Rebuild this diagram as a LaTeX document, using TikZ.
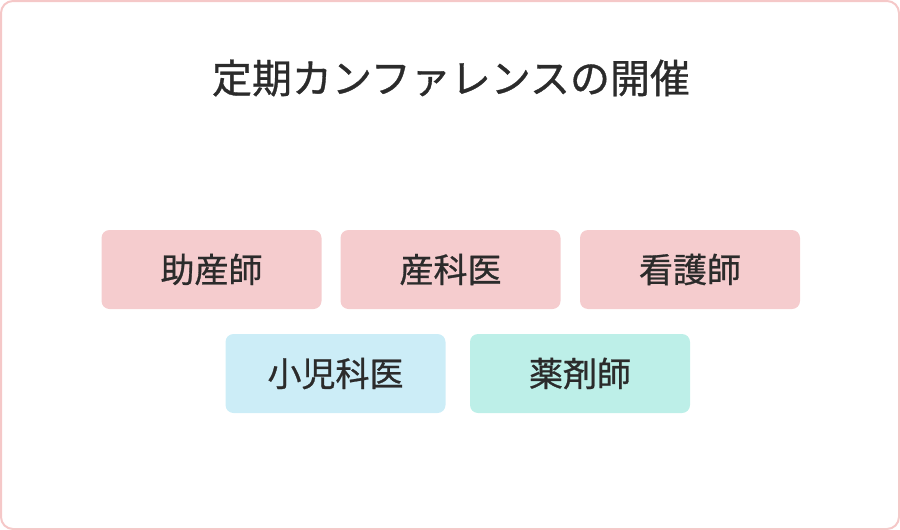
\documentclass[tikz,border=0pt]{standalone}
\usepackage{fontspec}
\newfontfamily\jpfont[FakeBold=0.8]{Noto Sans CJK JP}
\definecolor{cfpink}{RGB}{245,204,206}
\definecolor{cfblue}{RGB}{204,237,247}
\definecolor{cfgreen}{RGB}{189,239,232}
\definecolor{cfborder}{RGB}{245,200,200}
\definecolor{cftext}{RGB}{43,43,43}
\usetikzlibrary{positioning}

\begin{document}
\begin{tikzpicture}[
  x=0.5pt,y=-0.5pt,
  every node/.style={font=\jpfont\fontsize{17}{20}\selectfont,text=cftext},
  rolebox/.style={rounded corners=4pt,minimum width=110pt,minimum height=39.5pt,
                  inner sep=0pt,align=center},
]
  % Frame
  \useasboundingbox (0,0) rectangle (900,530);
  \draw[cfborder,line width=1pt,rounded corners=6pt] (1,1) rectangle (899,529);

  % Title
  \node[font=\jpfont\fontsize{20}{24}\selectfont] (title) at (451,78)
    {定期カンファレンスの開催};

  % First row
  \node[rolebox,fill=cfpink] (josanshi) at (211.5,269.5) {助産師};
  \node[rolebox,fill=cfpink] (sankai) at (450.5,269.5) {産科医};
  \node[rolebox,fill=cfpink] (kangoshi) at (690,269.5) {看護師};

  % Second row
  \node[rolebox,fill=cfblue] (shonikai) at (335.5,373.5) {小児科医};
  \node[rolebox,fill=cfgreen] (yakuzaishi) at (580,373.5) {薬剤師};
\end{tikzpicture}
\end{document}
